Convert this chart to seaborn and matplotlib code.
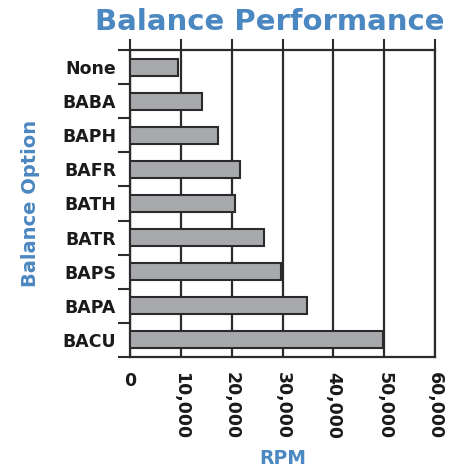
import matplotlib
matplotlib.use("Agg")
import matplotlib.pyplot as plt
import seaborn as sns
import pandas as pd
from matplotlib.ticker import FixedLocator

categories = ["None", "BABA", "BAPH", "BAFR", "BATH", "BATR", "BAPS", "BAPA", "BACU"]
rpm_values = [9500, 14200, 17300, 21700, 20600, 26400, 29800, 34800, 49800]
x_ticks = [0, 10000, 20000, 30000, 40000, 50000, 60000]
x_tick_labels = ["0", "10,000", "20,000", "30,000", "40,000", "50,000", "60,000"]

sns.set_theme(style="white")
plt.rcParams['font.family'] = ['DejaVu Sans']

df = pd.DataFrame({"option": categories, "rpm": rpm_values})

fig = plt.figure(figsize=(4.57, 4.70), dpi=100)
ax = fig.add_axes([130/457, 1-357/470, 305/457, 307/470])

sns.barplot(data=df, y="option", x="rpm", order=categories, orient="h",
            color="#a7a9ac", edgecolor="#2b2b2b", linewidth=1.5,
            width=0.5, saturation=1, ax=ax, zorder=3)

blue = "#4b87c0"
ax.set_xlim(0, 60000)
ax.set_ylim(len(categories) - 0.5, -0.5)
ax.set_xticks(x_ticks)
ax.set_xticklabels(x_tick_labels, rotation=-90, fontsize=12.5, fontweight="bold", color="#1a1a1a")
ax.get_xticklabels()[0].set_rotation(0)
ax.set_yticks(range(len(categories)))
ax.set_yticklabels(categories, fontsize=12.5, fontweight="bold", color="#1a1a1a")
ax.yaxis.set_minor_locator(FixedLocator([i - 0.5 for i in range(len(categories) + 1)]))

ax.grid(False)
for xv in x_ticks:
    ax.axvline(xv, color="#2b2b2b", lw=1.6, zorder=2)

ax.tick_params(axis="x", which="major", top=True, bottom=False, labeltop=False,
               labelbottom=True, direction="out", length=8, width=1.5, color="#2b2b2b", pad=3)
ax.tick_params(axis="y", which="major", left=False, length=0, pad=10)
ax.tick_params(axis="y", which="minor", left=True, direction="out", length=9, width=1.5, color="#2b2b2b")

for s in ax.spines.values():
    s.set_visible(True)
    s.set_color("#2b2b2b")
    s.set_linewidth(1.6)

ax.set_xlabel("RPM", fontsize=13.5, fontweight="bold", color=blue, labelpad=7)
ax.set_ylabel("Balance Option", fontsize=14, fontweight="bold", color=blue, labelpad=16)
fig.text(270/457, 1-22/470, "Balance Performance", ha="center", va="center",
         fontsize=21, fontweight="bold", color=blue)

fig.savefig("out.png", dpi=100)
